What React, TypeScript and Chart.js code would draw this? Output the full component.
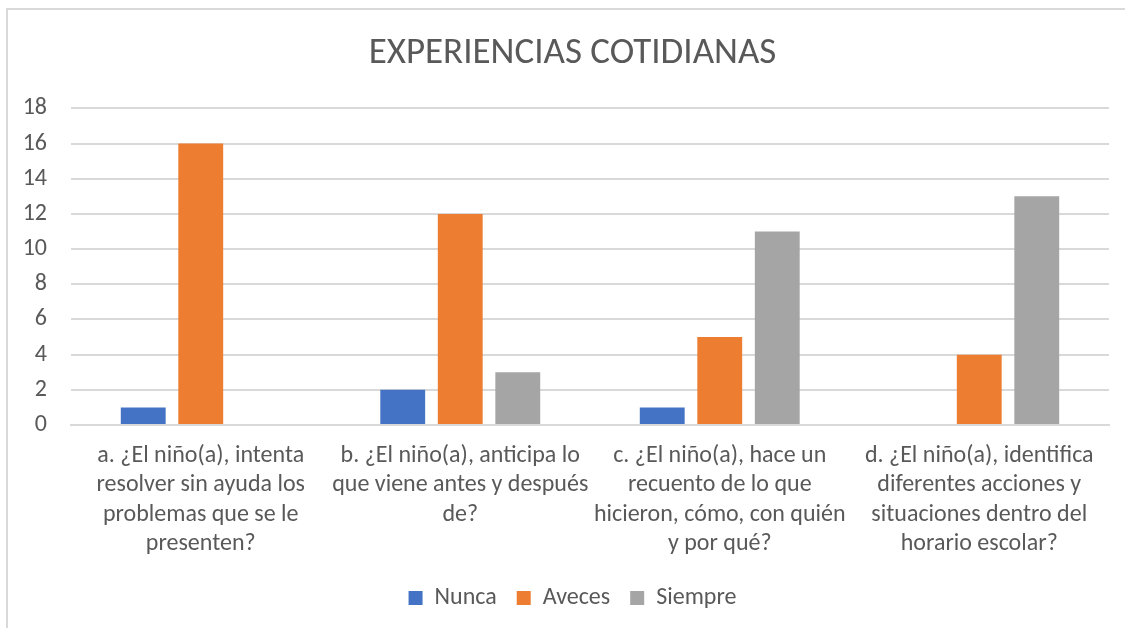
import React, { useEffect, useRef } from "react";
import { Chart, registerables } from "chart.js";

Chart.register(...registerables);

const TITLE = "EXPERIENCIAS COTIDIANAS";
const categories: string[][] = [
  ["a. ¿El niño(a), intenta", "resolver sin ayuda los", "problemas que se le", "presenten?"],
  ["b. ¿El niño(a), anticipa lo", "que viene antes y después", "de?"],
  ["c. ¿El niño(a), hace un", "recuento de lo que", "hicieron, cómo, con quién", "y por qué?"],
  ["d. ¿El niño(a), identifica", "diferentes acciones y", "situaciones dentro del", "horario escolar?"],
];
const seriesNames = ["Nunca", "Aveces", "Siempre"];
const nunca = [1, 2, 1, 0];
const aveces = [16, 12, 5, 4];
const siempre = [0, 3, 11, 13];
const colors = ["#4472C4", "#ED7D31", "#A5A5A5"];

const FONT = "Carlito, Lato, 'Liberation Sans', sans-serif";
const TEXT = "#595959";

export default function App() {
  const ref = useRef<HTMLCanvasElement>(null);
  useEffect(() => {
    if (!ref.current) return;
    const chart = new Chart(ref.current, {
      type: "bar",
      data: {
        labels: categories,
        datasets: [nunca, aveces, siempre].map((d, i) => ({
          label: seriesNames[i],
          data: d,
          backgroundColor: colors[i],
          borderWidth: 0,
          categoryPercentage: 0.665,
          barPercentage: 0.78,
        })),
      },
      options: {
        animation: false,
        responsive: false,
        maintainAspectRatio: false,
        layout: { padding: { left: 20, right: 0, top: 0, bottom: 8 } },
        plugins: {
          title: {
            display: true,
            text: TITLE,
            color: TEXT,
            font: { family: FONT, size: 37, weight: "normal" },
            padding: { top: 32, bottom: 32 },
          },
          legend: {
            position: "bottom",
            labels: {
              color: TEXT,
              font: { family: FONT, size: 24 },
              boxWidth: 14,
              boxHeight: 14,
              padding: 20,
            },
          },
          tooltip: { enabled: false },
        },
        scales: {
          x: {
            grid: { display: false, drawTicks: false },
            border: { display: true, color: "#D9D9D9", width: 2 },
            ticks: {
              color: TEXT,
              font: { family: FONT, size: 24, lineHeight: 1.23 },
              maxRotation: 0,
              autoSkip: false,
              padding: 16,
            },
            afterFit: (s: any) => {
              s.height = 141;
            },
          },
          y: {
            min: 0,
            max: 18,
            ticks: {
              stepSize: 2,
              color: TEXT,
              font: { family: FONT, size: 24 },
              padding: 24,
            },
            grid: { color: "#D9D9D9", lineWidth: 2, drawTicks: false },
            border: { display: false },
            afterFit: (s: any) => {
              s.width = 51;
            },
          },
          yRight: {
            type: "linear",
            position: "right",
            display: true,
            grid: { display: false, drawTicks: false },
            ticks: { display: false },
            border: { display: false },
            afterFit: (s: any) => {
              s.width = 16;
            },
          },
        },
      },
    });
    return () => chart.destroy();
  }, []);
  return (
    <div style={{ position: "fixed", left: 0, top: 0, width: 1125, height: 628, overflow: "hidden", background: "#fff" }}>
      <div
        style={{
          position: "absolute",
          left: 6,
          top: 8,
          width: 1200,
          height: 700,
          border: "2px solid #D9D9D9",
          boxSizing: "border-box",
        }}
      />
      <canvas ref={ref} width={1125} height={628} style={{ position: "absolute", left: 0, top: 0, width: 1125, height: 628 }} />
    </div>
  );
}
